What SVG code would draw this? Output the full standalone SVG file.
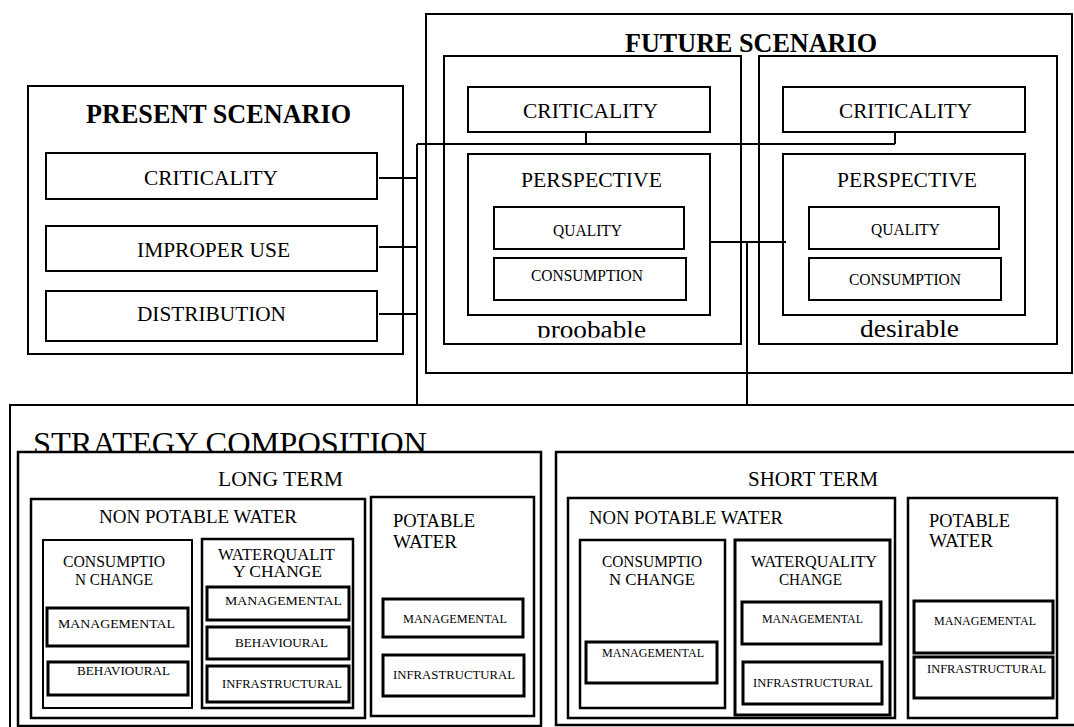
<svg xmlns="http://www.w3.org/2000/svg" width="1074" height="727" viewBox="0 0 1074 727">
<defs>
<style>
.b{fill:none;stroke:#000;stroke-width:2}
.m{fill:none;stroke:#000;stroke-width:2.5}
.s{fill:none;stroke:#000;stroke-width:3}
.w{fill:#fff;stroke:#000;stroke-width:2.5}
.c{fill:none;stroke:#000;stroke-width:2}
text{font-family:"Liberation Serif","Times New Roman",serif;fill:#000}
.t27{font-size:27px;font-weight:bold}
.t21{font-size:21px}
.t16{font-size:16px}
.t18{font-size:18px}
.t13{font-size:13px}
.t25{font-size:25px}
.t32{font-size:32px}
</style>
<clipPath id="clipProb"><rect x="440" y="300" width="300" height="37.5"/></clipPath>
</defs>
<rect width="1074" height="727" fill="#fff"/>

<g id="present-scenario">
<rect class="b" x="28" y="86" width="375" height="268"/>
<text class="t27" x="86" y="123" textLength="265" lengthAdjust="spacingAndGlyphs">PRESENT SCENARIO</text>
</g>
<g id="present-criticality">
<rect class="b" x="46" y="153" width="331" height="46"/>
<text class="t21" x="144" y="185" textLength="134" lengthAdjust="spacingAndGlyphs">CRITICALITY</text>
</g>
<g id="present-improper-use">
<rect class="b" x="46" y="226" width="331" height="45"/>
<text class="t21" x="137" y="257" textLength="153" lengthAdjust="spacingAndGlyphs">IMPROPER USE</text>
</g>
<g id="present-distribution">
<rect class="b" x="46" y="291" width="331" height="50"/>
<text class="t21" x="137" y="321" textLength="149" lengthAdjust="spacingAndGlyphs">DISTRIBUTION</text>
</g>

<g id="future-scenario">
<rect class="b" x="426" y="14" width="646" height="359"/>
<text class="t27" x="625" y="52" textLength="252" lengthAdjust="spacingAndGlyphs">FUTURE SCENARIO</text>
</g>
<g id="probable">
<rect class="b" x="444" y="56" width="297" height="288"/>
<text class="t25" x="537" y="338" textLength="109" lengthAdjust="spacingAndGlyphs" clip-path="url(#clipProb)">proobable</text>
</g>
<g id="probable-criticality">
<rect class="b" x="468" y="87" width="242" height="45"/>
<text class="t21" x="523" y="118" textLength="135" lengthAdjust="spacingAndGlyphs">CRITICALITY</text>
</g>
<g id="probable-perspective">
<rect class="b" x="468" y="154" width="242" height="161"/>
<text class="t21" x="521" y="187" textLength="141" lengthAdjust="spacingAndGlyphs">PERSPECTIVE</text>
</g>
<g id="probable-quality">
<rect class="b" x="494" y="207" width="190" height="42"/>
<text class="t16" x="553" y="236" textLength="69" lengthAdjust="spacingAndGlyphs">QUALITY</text>
</g>
<g id="probable-consumption">
<rect class="b" x="494" y="258" width="192" height="42"/>
<text class="t16" x="531" y="281" textLength="112" lengthAdjust="spacingAndGlyphs">CONSUMPTION</text>
</g>
<g id="desirable">
<rect class="b" x="759" y="56" width="298" height="288"/>
<text class="t25" x="860" y="337" textLength="99" lengthAdjust="spacingAndGlyphs">desirable</text>
</g>
<g id="desirable-criticality">
<rect class="b" x="783" y="87" width="242" height="45"/>
<text class="t21" x="839" y="118" textLength="133" lengthAdjust="spacingAndGlyphs">CRITICALITY</text>
</g>
<g id="desirable-perspective">
<rect class="b" x="783" y="154" width="242" height="161"/>
<text class="t21" x="837" y="187" textLength="140" lengthAdjust="spacingAndGlyphs">PERSPECTIVE</text>
</g>
<g id="desirable-quality">
<rect class="b" x="809" y="207" width="190" height="42"/>
<text class="t16" x="871" y="235" textLength="69" lengthAdjust="spacingAndGlyphs">QUALITY</text>
</g>
<g id="desirable-consumption">
<rect class="b" x="809" y="258" width="192" height="42"/>
<text class="t16" x="849" y="285" textLength="112" lengthAdjust="spacingAndGlyphs">CONSUMPTION</text>
</g>

<g id="strategy-composition">
<rect class="b" x="10" y="405" width="1074" height="335"/>
<text class="t32" x="33" y="454" textLength="394" lengthAdjust="spacingAndGlyphs">STRATEGY COMPOSITION</text>
</g>

<g id="long-term">
<rect class="w" x="18" y="452" width="523" height="274"/>
<text class="t21" x="218" y="486" textLength="125" lengthAdjust="spacingAndGlyphs">LONG TERM</text>
</g>
<g id="lt-non-potable">
<rect class="m" x="31" y="499" width="334" height="219"/>
<text class="t18" x="99" y="523" textLength="198" lengthAdjust="spacingAndGlyphs">NON POTABLE WATER</text>
</g>
<g id="lt-consumption-change">
<rect class="b" x="43" y="540" width="149" height="168"/>
<text class="t16" x="63" y="567" textLength="102" lengthAdjust="spacingAndGlyphs">CONSUMPTIO</text>
<text class="t16" x="75" y="585" textLength="78" lengthAdjust="spacingAndGlyphs">N CHANGE</text>
</g>
<g id="lt-cc-managemental">
<rect class="s" x="47" y="608" width="141" height="38"/>
<text class="t13" x="58" y="628" textLength="117" lengthAdjust="spacingAndGlyphs">MANAGEMENTAL</text>
</g>
<g id="lt-cc-behavioural">
<rect class="s" x="48" y="662" width="140" height="33"/>
<text class="t13" x="77" y="675" textLength="93" lengthAdjust="spacingAndGlyphs">BEHAVIOURAL</text>
</g>
<g id="lt-waterquality-change">
<rect class="m" x="202" y="539" width="151" height="169"/>
<text class="t16" x="218" y="560" textLength="117" lengthAdjust="spacingAndGlyphs">WATERQUALIT</text>
<text class="t16" x="233" y="577" textLength="89" lengthAdjust="spacingAndGlyphs">Y CHANGE</text>
</g>
<g id="lt-wq-managemental">
<rect class="s" x="207" y="587" width="142" height="33"/>
<text class="t13" x="225" y="605" textLength="117" lengthAdjust="spacingAndGlyphs">MANAGEMENTAL</text>
</g>
<g id="lt-wq-behavioural">
<rect class="s" x="207" y="627" width="142" height="32"/>
<text class="t13" x="235" y="647" textLength="93" lengthAdjust="spacingAndGlyphs">BEHAVIOURAL</text>
</g>
<g id="lt-wq-infrastructural">
<rect class="s" x="207" y="666" width="142" height="36"/>
<text class="t13" x="222" y="688" textLength="120" lengthAdjust="spacingAndGlyphs">INFRASTRUCTURAL</text>
</g>
<g id="lt-potable">
<rect class="m" x="371" y="497" width="163" height="219"/>
<text class="t18" x="393" y="527" textLength="82" lengthAdjust="spacingAndGlyphs">POTABLE</text>
<text class="t18" x="393" y="548" textLength="64" lengthAdjust="spacingAndGlyphs">WATER</text>
</g>
<g id="lt-pw-managemental">
<rect class="s" x="383" y="599" width="140" height="38"/>
<text class="t13" x="403" y="623" textLength="104" lengthAdjust="spacingAndGlyphs">MANAGEMENTAL</text>
</g>
<g id="lt-pw-infrastructural">
<rect class="s" x="383" y="655" width="141" height="41"/>
<text class="t13" x="393" y="679" textLength="122" lengthAdjust="spacingAndGlyphs">INFRASTRUCTURAL</text>
</g>

<g id="short-term">
<rect class="m" x="556" y="452" width="524" height="273"/>
<text class="t21" x="748" y="486" textLength="130" lengthAdjust="spacingAndGlyphs">SHORT TERM</text>
</g>
<g id="st-non-potable">
<rect class="m" x="568" y="498" width="327" height="220"/>
<text class="t18" x="589" y="524" textLength="194" lengthAdjust="spacingAndGlyphs">NON POTABLE WATER</text>
</g>
<g id="st-consumption-change">
<rect class="m" x="580" y="540" width="145" height="168"/>
<text class="t16" x="602" y="567" textLength="100" lengthAdjust="spacingAndGlyphs">CONSUMPTIO</text>
<text class="t16" x="609" y="585" textLength="86" lengthAdjust="spacingAndGlyphs">N  CHANGE</text>
</g>
<g id="st-cc-managemental">
<rect class="s" x="586" y="642" width="131" height="41"/>
<text class="t13" x="602" y="657" textLength="102" lengthAdjust="spacingAndGlyphs">MANAGEMENTAL</text>
</g>
<g id="st-waterquality-change">
<rect class="s" x="735" y="540" width="155" height="175"/>
<text class="t16" x="751" y="567" textLength="126" lengthAdjust="spacingAndGlyphs">WATERQUALITY</text>
<text class="t16" x="779" y="585" textLength="63" lengthAdjust="spacingAndGlyphs">CHANGE</text>
</g>
<g id="st-wq-managemental">
<rect class="s" x="742" y="602" width="139" height="42"/>
<text class="t13" x="762" y="623" textLength="101" lengthAdjust="spacingAndGlyphs">MANAGEMENTAL</text>
</g>
<g id="st-wq-infrastructural">
<rect class="s" x="743" y="662" width="139" height="42"/>
<text class="t13" x="753" y="687" textLength="120" lengthAdjust="spacingAndGlyphs">INFRASTRUCTURAL</text>
</g>
<g id="st-potable">
<rect class="m" x="908" y="498" width="149" height="220"/>
<text class="t18" x="929" y="527" textLength="81" lengthAdjust="spacingAndGlyphs">POTABLE</text>
<text class="t18" x="929" y="547" textLength="64" lengthAdjust="spacingAndGlyphs">WATER</text>
</g>
<g id="st-pw-managemental">
<rect class="s" x="914" y="601" width="139" height="52"/>
<text class="t13" x="934" y="625" textLength="102" lengthAdjust="spacingAndGlyphs">MANAGEMENTAL</text>
</g>
<g id="st-pw-infrastructural">
<rect class="s" x="914" y="657" width="139" height="41"/>
<text class="t13" x="927" y="673" textLength="119" lengthAdjust="spacingAndGlyphs">INFRASTRUCTURAL</text>
</g>

<g id="connectors">
<path class="c" d="M379 178H417M379 247H417M379 314H417M417 144V405M417 144H895M586 132V144M895 132V144M710 242H786M747 242V405"/>
</g>
</svg>
